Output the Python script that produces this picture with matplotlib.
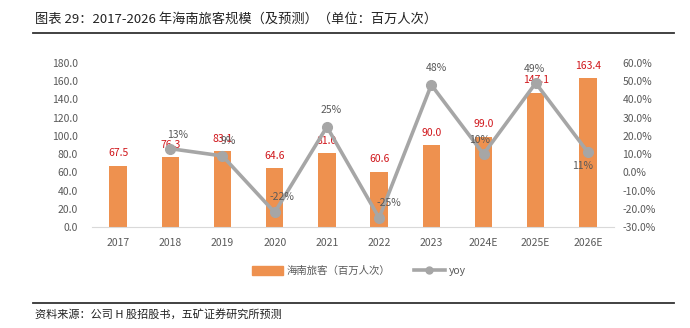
import matplotlib
matplotlib.use("Agg")
import matplotlib.pyplot as plt
from matplotlib.lines import Line2D
from matplotlib.patches import Patch

plt.rcParams['font.family'] = ['Noto Sans CJK SC', 'DejaVu Sans']

categories = ["2017", "2018", "2019", "2020", "2021", "2022", "2023", "2024E", "2025E", "2026E"]
passengers = [67.5, 76.3, 83.1, 64.6, 81.0, 60.6, 90.0, 99.0, 147.1, 163.4]
yoy = [None, 13, 9, -22, 25, -25, 48, 10, 49, 11]
yoy_labels = ["", "13%", "9%", "-22%", "25%", "-25%", "48%", "10%", "49%", "11%"]
# label offsets in points (dx, dy)
yoy_offsets = [(0, 0), (5, 10), (4, 11), (5, 11), (3, 12), (7, 11), (4, 12), (-3, 10), (-1, 10), (-4, -10)]

bar_color = "#EE914F"
line_color = "#A6A6A6"
red = "#D0161B"
gray_txt = "#595959"

fig = plt.figure(figsize=(6.9, 3.28), dpi=100)
ax = fig.add_axes([0.1333, 0.3079, 0.7566, 0.5])
x = list(range(len(categories)))
ax.bar(x, passengers, width=0.33, color=bar_color, zorder=2)
ax.set_xlim(-0.5, len(categories) - 0.5)
ax.set_ylim(0, 180)
ax.set_yticks(range(0, 181, 20))
ax.set_yticklabels([f"{v:.1f}" for v in range(0, 181, 20)])
ax.set_xticks(x)
ax.set_xticklabels(categories)
ax.tick_params(length=0, labelsize=7.5, colors=gray_txt, pad=8)
ax.tick_params(axis='y', pad=10)
for s in ["top", "right", "left"]:
    ax.spines[s].set_visible(False)
ax.spines["bottom"].set_color("#D9D9D9")
for xi, v in zip(x, passengers):
    ax.annotate(f"{v:.1f}", (xi, v), xytext=(0, 9), textcoords="offset points",
                ha="center", va="center", color=red, fontsize=7.5, zorder=5)

ax2 = ax.twinx()
xs = [xi for xi, v in zip(x, yoy) if v is not None]
ys = [v for v in yoy if v is not None]
ax2.plot(xs, ys, color=line_color, lw=2.6, marker="o", ms=7, zorder=3)
ax2.set_ylim(-30, 60)
ax2.set_yticks(range(-30, 61, 10))
ax2.set_yticklabels([f"{v:.1f}%" for v in range(-30, 61, 10)])
ax2.tick_params(length=0, labelsize=7.5, colors=gray_txt, pad=6)
for s in ["top", "right", "left", "bottom"]:
    ax2.spines[s].set_visible(False)
for xi, v, lab, off in zip(x, yoy, yoy_labels, yoy_offsets):
    if v is None:
        continue
    ax2.annotate(lab, (xi, v), xytext=off, textcoords="offset points",
                 ha="center", va="center", color=gray_txt, fontsize=7.5, zorder=6)

handles = [Patch(color=bar_color), Line2D([0], [0], color=line_color, lw=2.6, marker="o", ms=5)]
fig.legend(handles, ["海南旅客（百万人次）", "yoy"], loc="center", bbox_to_anchor=(0.52, 0.174),
           ncol=2, frameon=False, fontsize=7.5, labelcolor=gray_txt, handlelength=3.0,
           handleheight=0.9, handletextpad=0.4, columnspacing=2.2)

fig.text(0.051, 0.942, "图表 29：2017-2026 年海南旅客规模（及预测）（单位：百万人次）",
         fontsize=9.5, color="#222222", ha="left", va="center")
fig.add_artist(Line2D([0.048, 0.977], [0.899, 0.899], color="#333333", lw=1.3))
fig.add_artist(Line2D([0.048, 0.977], [0.076, 0.076], color="#333333", lw=1.3))
fig.text(0.051, 0.043, "资料来源：公司 H 股招股书，五矿证券研究所预测",
         fontsize=8, color="#222222", ha="left", va="center")

fig.savefig("out.png", dpi=100)
